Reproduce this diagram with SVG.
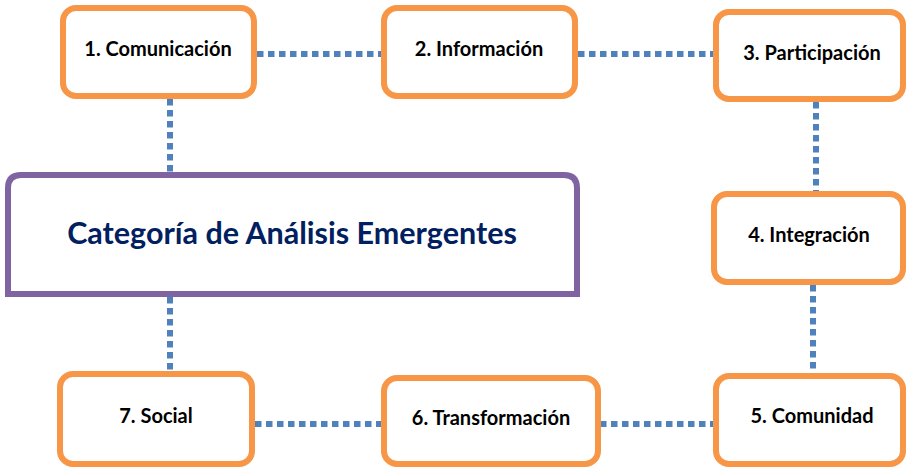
<svg xmlns="http://www.w3.org/2000/svg" width="907" height="467" viewBox="0 0 907 467">
<style>
.node{fill:#fff;stroke:#F79646;stroke-width:6}
.lbl{font-family:Lato,"Open Sans",sans-serif;font-weight:bold;font-size:20px;fill:#000;text-anchor:middle}
.conn{stroke:#4F81BD;stroke-width:6;stroke-dasharray:6.5 4.5;fill:none}
.title{font-family:Lato,"Open Sans",sans-serif;font-weight:bold;font-size:30.5px;fill:#002060;text-anchor:middle}
</style>
<rect width="907" height="467" fill="#fff"/>
<g id="connectors">
<line class="conn" x1="257" y1="54" x2="381" y2="54"/>
<line class="conn" x1="578" y1="54" x2="713" y2="54"/>
<line class="conn" x1="170" y1="99" x2="170" y2="172"/>
<line class="conn" x1="816" y1="102" x2="816" y2="191"/>
<line class="conn" x1="813" y1="285" x2="813" y2="373"/>
<line class="conn" x1="170" y1="297" x2="170" y2="371"/>
<line class="conn" x1="255" y1="424" x2="382" y2="424"/>
<line class="conn" x1="600" y1="424" x2="713" y2="424"/>
</g>
<g id="central">
<path d="M8 294 V188 Q8 175 21 175 H564 Q577 175 577 188 V294 Z" fill="#fff" stroke="#8064A2" stroke-width="6"/>
<text class="title" x="292" y="244">Categoría de Análisis Emergentes</text>
</g>
<g id="n1"><rect class="node" x="63" y="8" width="191" height="88" rx="13"/><text class="lbl" x="158" y="56">1. Comunicación</text></g>
<g id="n2"><rect class="node" x="384" y="8" width="191" height="88" rx="13"/><text class="lbl" x="479" y="56">2. Información</text></g>
<g id="n3"><rect class="node" x="716" y="12" width="187" height="87" rx="13"/><text class="lbl" x="812" y="60">3. Participación</text></g>
<g id="n4"><rect class="node" x="714" y="194" width="189" height="88" rx="13"/><text class="lbl" x="809" y="242">4. Integración</text></g>
<g id="n5"><rect class="node" x="716" y="376" width="187" height="88" rx="13"/><text class="lbl" x="812" y="423">5. Comunidad</text></g>
<g id="n6"><rect class="node" x="384" y="378" width="214" height="86" rx="13"/><text class="lbl" x="491" y="425">6. Transformación</text></g>
<g id="n7"><rect class="node" x="60" y="374" width="192" height="90" rx="13"/><text class="lbl" x="156" y="423">7. Social</text></g>
</svg>
